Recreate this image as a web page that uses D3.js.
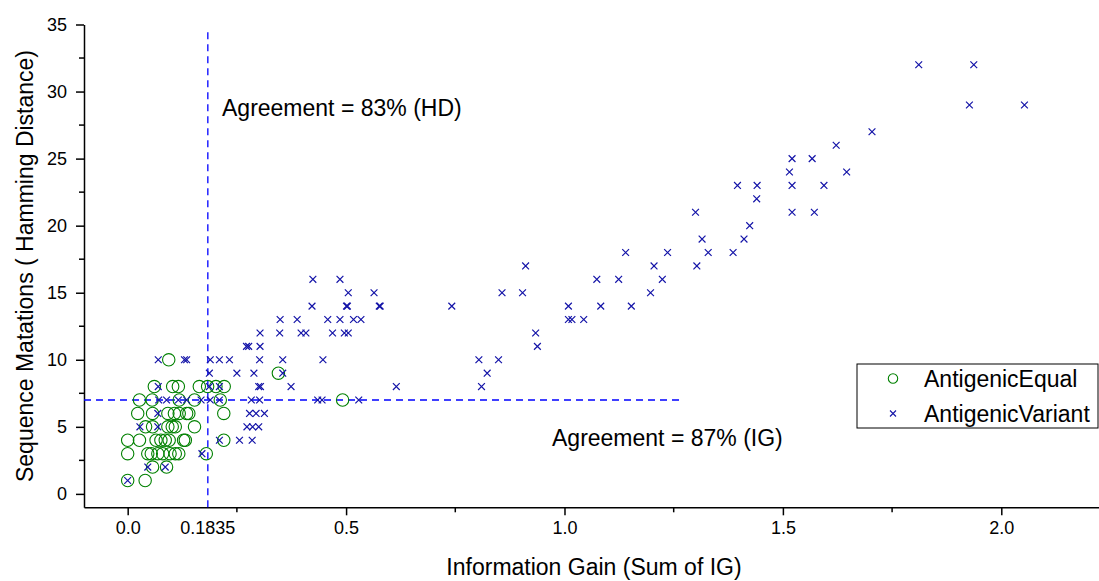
<!DOCTYPE html>
<html>
<head>
<meta charset="utf-8">
<script src="https://cdn.jsdelivr.net/npm/d3@7"></script>
<style>
body { margin: 0; background: #fff; }
text { font-family: Arial, 'Liberation Sans', sans-serif; }
</style>
</head>
<body>
<script>
// antigenic equal pairs (IG, HD)
var equalPoints = [
    [0.094, 10], [0.345, 9],
    [0.061, 8], [0.103, 8], [0.116, 8], [0.164, 8], [0.183, 8], [0.202, 8], [0.221, 8],
    [0.027, 7], [0.056, 7], [0.118, 7], [0.153, 7], [0.212, 7], [0.492, 7],
    [0.023, 6], [0.057, 6], [0.092, 6], [0.107, 6], [0.118, 6], [0.135, 6], [0.140, 6], [0.220, 6],
    [0.041, 5], [0.057, 5], [0.092, 5], [0.102, 5], [0.109, 5], [0.153, 5],
    [0.000, 4], [0.027, 4], [0.065, 4], [0.076, 4], [0.086, 4], [0.095, 4], [0.128, 4], [0.132, 4], [0.220, 4],
    [0.000, 3], [0.046, 3], [0.054, 3], [0.069, 3], [0.080, 3], [0.097, 3], [0.109, 3], [0.117, 3], [0.180, 3],
    [0.057, 2], [0.089, 2],
    [0.000, 1], [0.040, 1]
];
// antigenic variant pairs (IG, HD)
var variantPoints = [
    [1.811, 32], [1.937, 32], [1.927, 29], [2.053, 29], [1.704, 27], [1.622, 26],
    [1.521, 25], [1.567, 25], [1.515, 24], [1.646, 24],
    [1.396, 23], [1.441, 23], [1.521, 23], [1.594, 23], [1.440, 22],
    [1.300, 21], [1.521, 21], [1.572, 21], [1.424, 20], [1.315, 19], [1.411, 19],
    [1.140, 18], [1.236, 18], [1.329, 18], [1.386, 18],
    [0.911, 17], [1.205, 17], [1.303, 17],
    [0.424, 16], [0.486, 16], [1.074, 16], [1.124, 16], [1.224, 16],
    [0.505, 15], [0.564, 15], [0.857, 15], [0.904, 15], [1.197, 15],
    [0.422, 14], [0.501, 14], [0.503, 14], [0.576, 14], [0.578, 14], [0.742, 14], [1.009, 14], [1.083, 14], [1.153, 14],
    [0.349, 13], [0.388, 13], [0.458, 13], [0.486, 13], [0.517, 13], [0.534, 13], [1.009, 13], [1.017, 13], [1.044, 13],
    [0.303, 12], [0.348, 12], [0.397, 12], [0.408, 12], [0.469, 12], [0.496, 12], [0.505, 12], [0.934, 12],
    [0.272, 11], [0.277, 11], [0.303, 11], [0.938, 11],
    [0.070, 10], [0.130, 10], [0.135, 10], [0.189, 10], [0.210, 10], [0.233, 10], [0.302, 10], [0.355, 10], [0.447, 10], [0.804, 10], [0.849, 10],
    [0.187, 9], [0.250, 9], [0.289, 9], [0.355, 9], [0.823, 9],
    [0.070, 8], [0.187, 8], [0.210, 8], [0.300, 8], [0.304, 8], [0.374, 8], [0.615, 8], [0.810, 8],
    [0.071, 7], [0.089, 7], [0.116, 7], [0.135, 7], [0.168, 7], [0.189, 7], [0.210, 7], [0.283, 7], [0.302, 7], [0.435, 7], [0.445, 7], [0.529, 7],
    [0.069, 6], [0.279, 6], [0.294, 6], [0.313, 6],
    [0.028, 5], [0.069, 5], [0.273, 5], [0.286, 5], [0.300, 5],
    [0.210, 4], [0.256, 4], [0.285, 4],
    [0.170, 3], [0.046, 2], [0.086, 2], [0.000, 1]
];
var xTicks = [0, 0.5, 1.0, 1.5, 2.0];
var xMinor = [0.25, 0.75, 1.25, 1.75];
var yTicks = [0, 5, 10, 15, 20, 25, 30, 35];
var yMinor = [2.5, 7.5, 12.5, 17.5, 22.5, 27.5, 32.5];
var igCut = 0.1835;
var hdCut = 7;

var width = 1099;
var height = 581;
var svg = d3.select('body')
    .append('svg')
    .attr('width', width)
    .attr('height', height);

var x = d3.scaleLinear().domain([-0.1, 2.25]).range([84, 1110.5]);
var y = d3.scaleLinear().domain([-1, 35]).range([507.3, 24.5]);

// axes
var xAxis = d3.axisBottom(x).tickValues(xTicks).tickFormat(d3.format('.1f')).tickSize(8).tickSizeOuter(0);
var yAxis = d3.axisLeft(y).tickValues(yTicks).tickFormat(d3.format('d')).tickSize(8).tickSizeOuter(0);

var gx = svg.append('g').attr('transform', 'translate(0,' + y(-1) + ')').call(xAxis);
gx.append('g').selectAll('line')
    .data(xMinor).enter().append('line')
    .attr('x1', d => x(d)).attr('x2', d => x(d))
    .attr('y1', 0).attr('y2', 5)
    .attr('stroke', '#000');
// extra labelled cut value
gx.append('text')
    .attr('class', 'cut')
    .attr('x', x(igCut))
    .attr('text-anchor', 'middle')
    .attr('fill', '#000')
    .text(igCut);

var gy = svg.append('g').attr('transform', 'translate(' + x(-0.1) + ',0)').call(yAxis);
gy.append('g').selectAll('line')
    .data(yMinor).enter().append('line')
    .attr('y1', d => y(d)).attr('y2', d => y(d))
    .attr('x1', 0).attr('x2', -5)
    .attr('stroke', '#000');

[gx, gy].forEach(function(g){
    g.select('.domain').attr('stroke', '#000').attr('stroke-width', 1.5);
    g.selectAll('line').attr('stroke-width', 1.5);
    g.selectAll('text').style('font-size', '18px').attr('fill', '#000');
});
gx.selectAll('.tick text, text.cut').attr('y', 14).attr('dy', '0.71em');
gy.selectAll('.tick text').attr('x', -17);

// cut lines
svg.append('line')
    .attr('x1', x(igCut)).attr('x2', x(igCut))
    .attr('y1', y(-1)).attr('y2', y(34.7))
    .attr('stroke', '#0000ff').attr('stroke-width', 1.3)
    .attr('stroke-dasharray', '7,5');
svg.append('line')
    .attr('x1', x(-0.1)).attr('x2', x(1.27))
    .attr('y1', y(hdCut)).attr('y2', y(hdCut))
    .attr('stroke', '#0000ff').attr('stroke-width', 1.3)
    .attr('stroke-dasharray', '7,5');

// points
svg.append('g').selectAll('circle')
    .data(equalPoints).enter().append('circle')
    .attr('cx', d => x(d[0]))
    .attr('cy', d => y(d[1]))
    .attr('r', 6.2)
    .attr('fill', 'none')
    .attr('stroke', '#008000')
    .attr('stroke-width', 1.1);

var s = 3.4;
svg.append('g').selectAll('path')
    .data(variantPoints).enter().append('path')
    .attr('d', function(d){
        var cx = x(d[0]), cy = y(d[1]);
        return 'M' + (cx - s) + ',' + (cy - s) + 'L' + (cx + s) + ',' + (cy + s) +
               'M' + (cx - s) + ',' + (cy + s) + 'L' + (cx + s) + ',' + (cy - s);
    })
    .attr('stroke', '#1414a8')
    .attr('stroke-width', 1.2)
    .attr('fill', 'none');

// annotations
svg.append('text')
    .attr('x', 222).attr('y', 116)
    .style('font-size', '23px')
    .text('Agreement = 83% (HD)');
svg.append('text')
    .attr('x', 552).attr('y', 446)
    .style('font-size', '23px')
    .text('Agreement = 87% (IG)');

// axis titles
svg.append('text')
    .attr('x', 594).attr('y', 575)
    .attr('text-anchor', 'middle')
    .style('font-size', '23px')
    .text('Information Gain (Sum of IG)');
svg.append('text')
    .attr('transform', 'translate(33,266) rotate(-90)')
    .attr('text-anchor', 'middle')
    .style('font-size', '23px')
    .text('Sequence Matations ( Hamming Distance)');

// legend
var legend = svg.append('g');
legend.append('rect')
    .attr('x', 857).attr('y', 364)
    .attr('width', 241).attr('height', 64)
    .attr('fill', '#fff').attr('stroke', '#000').attr('stroke-width', 1);
legend.append('circle')
    .attr('cx', 893).attr('cy', 378.5).attr('r', 4.7)
    .attr('fill', 'none').attr('stroke', '#008000').attr('stroke-width', 1.1);
legend.append('path')
    .attr('d', 'M890,410.5L896,416.5M890,416.5L896,410.5')
    .attr('stroke', '#1414a8').attr('stroke-width', 1.1);
legend.append('text').attr('x', 924).attr('y', 386.5).style('font-size', '23px').text('AntigenicEqual');
legend.append('text').attr('x', 924).attr('y', 421.5).style('font-size', '23px').text('AntigenicVariant');
</script>
</body>
</html>
